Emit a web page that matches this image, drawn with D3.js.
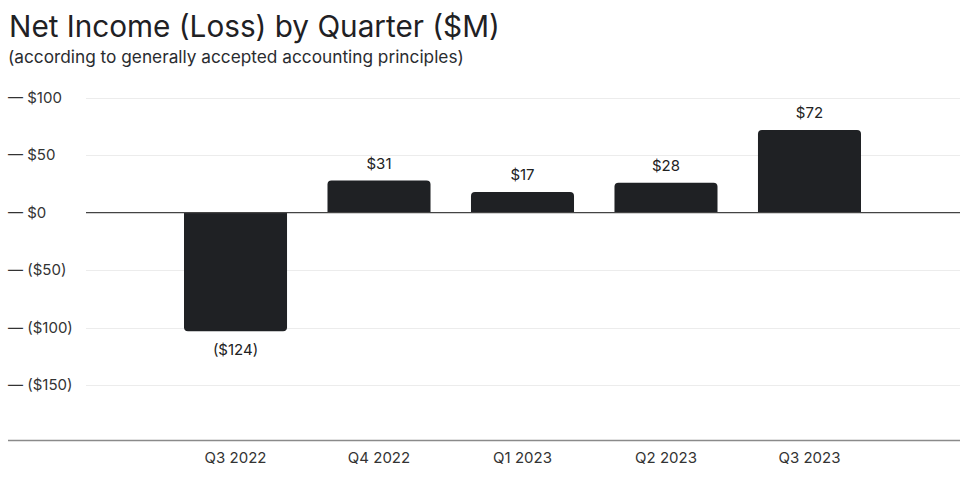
<!DOCTYPE html>
<html>
<head>
<meta charset="utf-8">
<script src="https://cdn.jsdelivr.net/npm/d3@7"></script>
<style>
  html, body { margin: 0; padding: 0; background: #fff; }
  svg { display: block; font-family: Inter, "Noto Sans", sans-serif; }
</style>
</head>
<body>
<svg id="chart" width="960" height="480"></svg>
<script>
// ---- data ----
const quarters = ["Q3 2022", "Q4 2022", "Q1 2023", "Q2 2023", "Q3 2023"];
// bar heights as drawn in the reference ($M)
const barValues = [-103, 28, 18, 26, 72];
// value labels as printed in the reference
const valueLabels = ["($124)", "$31", "$17", "$28", "$72"];
const yTicks = [100, 50, 0, -50, -100, -150];
const yTickLabels = ["\u2014 $100", "\u2014 $50", "\u2014 $0", "\u2014 ($50)", "\u2014 ($100)", "\u2014 ($150)"];
const title = "Net Income (Loss) by Quarter ($M)";
const subtitle = "(according to generally accepted accounting principles)";

// ---- layout ----
const svg = d3.select("#chart");
const W = 960;

const x = d3.scaleBand()
  .domain(quarters)
  .range([86, 959])
  .paddingInner(0.282)
  .paddingOuter(0.683);

const y = d3.scaleLinear()
  .domain([-150, 100])
  .range([385.2, 97.7]);

// title
function fitText(sel, target) {
  const w = sel.node().getComputedTextLength();
  const fs = parseFloat(sel.attr("font-size"));
  sel.attr("font-size", fs * target / w);
}
const t = svg.append("text")
  .attr("x", 9).attr("y", 37)
  .attr("font-size", 30)
  .attr("fill", "#1f2124")
  .attr("font-weight", 400)
  .text(title);
fitText(t, 491);

const st = svg.append("text")
  .attr("x", 8).attr("y", 63)
  .attr("font-size", 18)
  .attr("fill", "#2a2c30")
  .text(subtitle);
fitText(st, 456);

// gridlines
svg.append("g")
  .selectAll("line")
  .data(yTicks.filter(d => d !== 0))
  .join("line")
  .attr("x1", 86).attr("x2", W)
  .attr("y1", d => Math.round(y(d)) + 0.5)
  .attr("y2", d => Math.round(y(d)) + 0.5)
  .attr("stroke", "#ececec")
  .attr("stroke-width", 1);

// y tick labels
svg.append("g")
  .selectAll("text")
  .data(yTicks)
  .join("text")
  .attr("x", 8)
  .attr("y", d => y(d))
  .attr("dy", "0.35em")
  .attr("font-size", 15)
  .attr("fill", "#333")
  .text((d, i) => yTickLabels[i]);

// bars with rounded far corners
const r = 4;
function barPath(d, i) {
  const q = quarters[i];
  const x0 = x(q), x1 = x0 + x.bandwidth();
  const y0 = y(0), y1 = y(d);
  if (d >= 0) {
    return `M${x0},${y0}V${y1 + r}Q${x0},${y1} ${x0 + r},${y1}H${x1 - r}Q${x1},${y1} ${x1},${y1 + r}V${y0}Z`;
  } else {
    return `M${x0},${y0}V${y1 - r}Q${x0},${y1} ${x0 + r},${y1}H${x1 - r}Q${x1},${y1} ${x1},${y1 - r}V${y0}Z`;
  }
}
svg.append("g")
  .selectAll("path")
  .data(barValues)
  .join("path")
  .attr("d", barPath)
  .attr("fill", "#1f2124");

// zero line
svg.append("line")
  .attr("x1", 86).attr("x2", W)
  .attr("y1", y(0)).attr("y2", y(0))
  .attr("stroke", "#444")
  .attr("stroke-width", 1.2);

// value labels
svg.append("g")
  .selectAll("text")
  .data(barValues)
  .join("text")
  .attr("x", (d, i) => x(quarters[i]) + x.bandwidth() / 2)
  .attr("y", d => d >= 0 ? y(d) - 12 : y(d) + 24)
  .attr("text-anchor", "middle")
  .attr("font-size", 15)
  .attr("fill", "#222")
  .text((d, i) => valueLabels[i]);

// bottom axis
const axisY = 440.5;
svg.append("line")
  .attr("x1", 8).attr("x2", W)
  .attr("y1", axisY).attr("y2", axisY)
  .attr("stroke", "#8a8a8a")
  .attr("stroke-width", 1.5);

const xAxis = d3.axisBottom(x).tickSize(0).tickPadding(0);
const gx = svg.append("g")
  .attr("transform", `translate(0,${axisY})`)
  .call(xAxis);
gx.select(".domain").remove();
gx.selectAll("text")
  .attr("font-size", 15)
  .attr("font-family", "Inter, 'Noto Sans', sans-serif")
  .attr("fill", "#333")
  .attr("dy", null)
  .attr("y", 22);
</script>
</body>
</html>
